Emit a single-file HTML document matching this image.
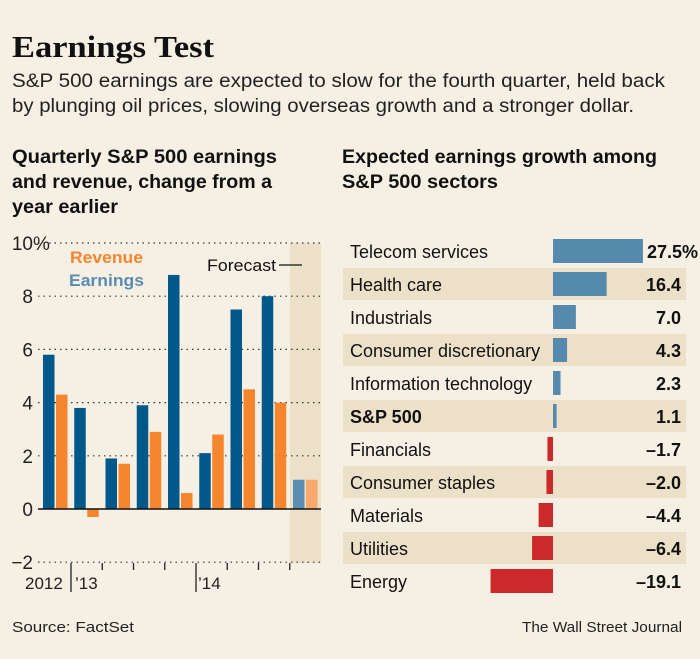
<!DOCTYPE html>
<html><head><meta charset="utf-8"><style>
html,body{margin:0;padding:0;background:#f6f0e4;}
svg{display:block;font-family:"Liberation Sans",sans-serif;}
</style></head><body>
<svg id="chart" width="700" height="659" viewBox="0 0 700 659">
<rect x="0" y="0" width="700" height="659" fill="#f6f0e4"/>
<text x="12" y="57" font-family="Liberation Serif,serif" font-weight="bold" font-size="31" textLength="202" lengthAdjust="spacingAndGlyphs" fill="#111">Earnings Test</text>
<text x="12" y="87" font-size="19" textLength="653" lengthAdjust="spacingAndGlyphs" fill="#222">S&amp;P 500 earnings are expected to slow for the fourth quarter, held back</text>
<text x="12" y="112" font-size="19" textLength="622" lengthAdjust="spacingAndGlyphs" fill="#222">by plunging oil prices, slowing overseas growth and a stronger dollar.</text>
<g font-weight="bold" font-size="19" fill="#111">
<text x="12" y="163" textLength="265" lengthAdjust="spacingAndGlyphs">Quarterly S&amp;P 500 earnings</text>
<text x="12" y="188" textLength="260" lengthAdjust="spacingAndGlyphs">and revenue, change from a</text>
<text x="12" y="213" textLength="106" lengthAdjust="spacingAndGlyphs">year earlier</text>
<text x="342" y="163" textLength="315" lengthAdjust="spacingAndGlyphs">Expected earnings growth among</text>
<text x="342" y="188" textLength="156" lengthAdjust="spacingAndGlyphs">S&amp;P 500 sectors</text>
</g>
<g id="left"></g>
<g id="right"></g>
<text x="12" y="632" font-size="15" textLength="122" lengthAdjust="spacingAndGlyphs" fill="#222">Source: FactSet</text>
<text x="522" y="632" font-size="15" textLength="160" lengthAdjust="spacingAndGlyphs" fill="#222">The Wall Street Journal</text>
</svg>
<script>
const quarters = ["Q4 2012","Q1 2013","Q2 2013","Q3 2013","Q4 2013","Q1 2014","Q2 2014","Q3 2014","Q4 2014F"];
const earnings = [5.8,3.8,1.9,3.9,8.8,2.1,7.5,8.0,1.1];
const revenue = [4.3,-0.3,1.7,2.9,0.6,2.8,4.5,4.0,1.1];
const yTicks = [10,8,6,4,2,0,-2];
const yTickLabels = ["10%","8","6","4","2","0","\u22122"];
const sectors = ["Telecom services","Health care","Industrials","Consumer discretionary","Information technology","S&P 500","Financials","Consumer staples","Materials","Utilities","Energy"];
const growth = [27.5,16.4,7.0,4.3,2.3,1.1,-1.7,-2.0,-4.4,-6.4,-19.1];
const growthLabels = ["27.5%","16.4","7.0","4.3","2.3","1.1","\u20131.7","\u20132.0","\u20134.4","\u20136.4","\u201319.1"];

const NS="http://www.w3.org/2000/svg";
function mk(tag,attrs,parent,text){const e=document.createElementNS(NS,tag);for(const k in attrs)e.setAttribute(k,attrs[k]);if(text!==undefined)e.textContent=text;parent.appendChild(e);return e;}

// Left chart
const L=document.getElementById('left');
const y=v=>509-v*26.6;
const gx=i=>43+i*31.25;
const bw=11.5;
const fc=mk('rect',{x:290,y:243,width:31,height:320,fill:'#ece1c8'},L);


yTicks.forEach((t,i)=>{
  if(t!==0){const g=mk('line',{x1:38,x2:321,y1:y(t),y2:y(t),stroke:'#333','stroke-width':1.2,'stroke-dasharray':'1.5,4'},L);
  
  }
  const lab=yTickLabels[i];
  const tx=mk('text',{x:33,y:y(t)+7,'font-size':19,fill:'#222','text-anchor':'end'},L,lab.replace('%',''));
  
  
  if(lab.includes('%')){const p=mk('text',{x:33,y:y(t)+7,'font-size':19,fill:'#222'},L,'%');
  
  }
});
quarters.forEach((q,i)=>{
  const last=i===quarters.length-1;
  const e=earnings[i],r=revenue[i];
  const b1=mk('rect',{x:gx(i),y:Math.min(y(e),y(0)),width:bw,height:Math.abs(y(e)-y(0)),fill:last?'#5b8eb2':'#00598a'},L);
  
  
  const b2=mk('rect',{x:gx(i)+13,y:Math.min(y(r),y(0)),width:bw,height:Math.abs(y(r)-y(0)),fill:last?'#f8a96b':'#f5862e'},L);
  
  
});
const za=mk('line',{x1:38,x2:321,y1:y(0),y2:y(0),stroke:'#111','stroke-width':1.5},L);


for(let i=0;i<8;i++){
  const x=gx(i)+28;const big=(i===0||i===4);
  const tk=mk('line',{x1:x,x2:x,y1:563,y2:big?592:570,stroke:'#222','stroke-width':1.3},L);
  
  
}
[["2012",25,"x-label-2012"],["\u201913",75,"x-label-2013"],["\u201914",198,"x-label-2014"]].forEach(a=>{
  const t=mk('text',{x:a[1],y:589,'font-size':17,fill:'#222'},L,a[0]);
  
  
});
const lr=mk('text',{x:70,y:263,'font-size':17,'font-weight':'bold',fill:'#f5862e',textLength:73,lengthAdjust:'spacingAndGlyphs'},L,'Revenue');


const le=mk('text',{x:69,y:286,'font-size':17,'font-weight':'bold',fill:'#5b8eb2',textLength:75,lengthAdjust:'spacingAndGlyphs'},L,'Earnings');


const fl=mk('text',{x:207,y:271,'font-size':17,fill:'#111',textLength:69,lengthAdjust:'spacingAndGlyphs'},L,'Forecast');


const fline=mk('line',{x1:279,x2:302,y1:265,y2:265,stroke:'#111','stroke-width':1.3},L);



// Right chart
const R=document.getElementById('right');
const x0=553, sc=3.27;
sectors.forEach((s,i)=>{
  const cy=251+i*33;
  if(i%2===1){const band=mk('rect',{x:343,y:cy-16,width:343,height:32,fill:'#ece1c8'},R);
  
  }
  const v=growth[i];
  const b=mk('rect',{x:v>=0?x0:x0+v*sc,y:cy-12,width:Math.max(Math.abs(v*sc),3),height:24,fill:v>=0?'#5589ad':'#cc2a2a'},R);
  
  
  const bold=s==='S&P 500';
  const t=mk('text',{x:350,y:cy+7,'font-size':18,fill:'#111','font-weight':bold?'bold':'normal'},R,s);
  
  
  const vt=mk('text',{x:i===0?698:681,y:cy+7,'font-size':18,'font-weight':'bold',fill:'#111','text-anchor':'end'},R,growthLabels[i]);
  
  
});
</script>
</body></html>
